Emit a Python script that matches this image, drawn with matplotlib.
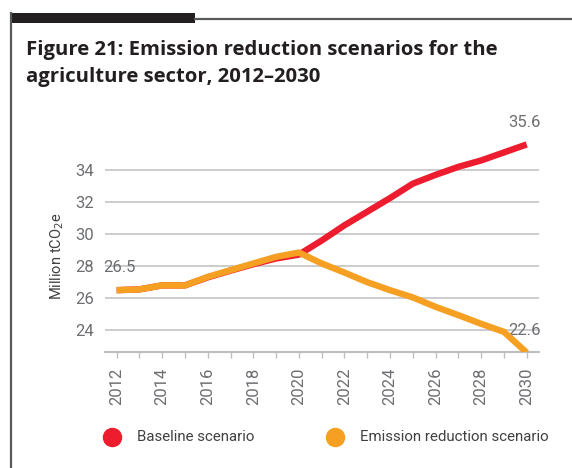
import matplotlib
matplotlib.use("Agg")
import matplotlib.pyplot as plt
from matplotlib.lines import Line2D
from matplotlib.patches import Rectangle

years = list(range(2012, 2031))
baseline = [26.5, 26.55, 26.8, 26.8, 27.3, 27.72, 28.12, 28.48, 28.72, 29.6, 30.55,
            31.4, 32.25, 33.15, 33.7, 34.2, 34.6, 35.1, 35.6]
reduction = [26.5, 26.55, 26.8, 26.8, 27.33, 27.75, 28.17, 28.58, 28.85, 28.17, 27.6,
             27.0, 26.5, 26.05, 25.46, 24.94, 24.4, 23.9, 22.6]
yticks = [24, 26, 28, 30, 32, 34]
xticks = list(range(2012, 2031, 2))

cond = "Roboto"
GRAY = "#6d6e71"
RED = "#ed1c2e"
ORANGE = "#f6a023"

W, H = 572, 468
fig = plt.figure(figsize=(W / 100, H / 100), dpi=100)

def fx(px):
    return px / W

def fy(py):
    return 1 - py / H

# frame decoration
fig.add_artist(Rectangle((fx(10), fy(23.3)), fx(195) - fx(10), fy(12.7) - fy(23.3),
                         transform=fig.transFigure, color="#231f20", lw=0))
fig.add_artist(Line2D([fx(195), fx(572)], [fy(19), fy(19)], transform=fig.transFigure,
                      color="#58595b", lw=1.6))
fig.add_artist(Line2D([fx(11), fx(11)], [fy(13), fy(468)], transform=fig.transFigure,
                      color="#58595b", lw=1.6))

fig.text(fx(26), fy(55), "Figure 21: Emission reduction scenarios for the",
         fontsize=14.6, fontweight="bold", family="Open Sans", color="#231f20",
         ha="left", va="baseline")
fig.text(fx(26), fy(82), "agriculture sector, 2012\u20132030",
         fontsize=14.6, fontweight="bold", family="Open Sans", color="#231f20",
         ha="left", va="baseline")

ax = fig.add_axes([fx(105), fy(352), fx(539) - fx(105), fy(110) - fy(352)])
ax.set_xlim(2011.49, 2030.54)
ax.set_ylim(22.64, 37.75)
for s in ["top", "right", "left"]:
    ax.spines[s].set_visible(False)
ax.spines["bottom"].set_color("#bcbec0")
ax.spines["bottom"].set_linewidth(1.5)
for yv in yticks:
    ax.axhline(yv, color="#c7c8ca", lw=1.3, zorder=1)

ax.plot(years, baseline, color=RED, lw=4.6, solid_capstyle="butt", zorder=3)
ax.plot(years, reduction, color=ORANGE, lw=4.6, solid_capstyle="butt", zorder=4)

ax.set_yticks(yticks)
ax.set_yticklabels([str(v) for v in yticks], fontsize=12, family=cond, color=GRAY)
ax.tick_params(axis="y", length=0, pad=8)
ax.set_xticks(xticks)
ax.set_xticklabels([str(v) for v in xticks], rotation=90, fontsize=12, family=cond, color=GRAY)
ax.set_xticks(years, minor=True)
ax.tick_params(axis="x", which="both", length=4, width=1, color="#bcbec0", direction="out", pad=7)

ax.set_ylabel("Million tCO$_2$e", fontsize=10.5, family=cond, color="#414042")
ax.yaxis.set_label_coords(-0.09, 0.397)

ax.text(2011.4, baseline[0] + 1.44, "26.5", fontsize=12, family=cond, color=GRAY,
        ha="left", va="center")
ax.text(2030.6, baseline[-1] + 1.34, "35.6", fontsize=12, family=cond, color=GRAY,
        ha="right", va="center")
ax.text(2030.6, reduction[-1] + 1.4, "22.6", fontsize=12, family=cond, color=GRAY,
        ha="right", va="center")

# legend
for cx, col, lab in [(112, RED, "Baseline scenario"), (335, ORANGE, "Emission reduction scenario")]:
    fig.add_artist(Line2D([fx(cx)], [fy(437)], transform=fig.transFigure, marker="o",
                          markersize=13, color=col, lw=0))
    fig.text(fx(cx + 25), fy(437), lab, fontsize=10.8, family=cond, color="#414042",
             ha="left", va="center")

fig.savefig("out.png", dpi=100)
